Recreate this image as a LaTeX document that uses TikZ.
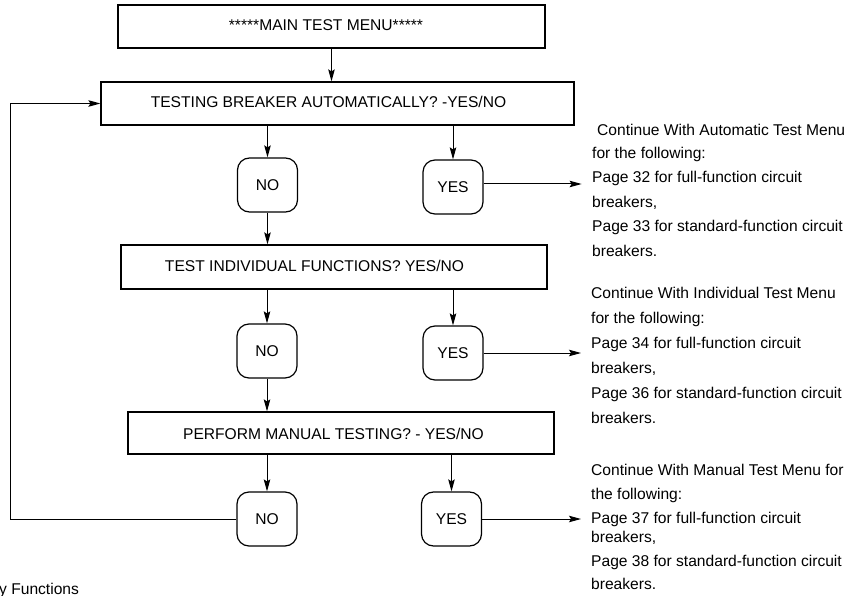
\documentclass[tikz,border=0pt]{standalone}
\usepackage{fontspec}
\setmainfont{Liberation Sans}
\usetikzlibrary{arrows.meta}
\begin{document}
\begin{tikzpicture}[x=1pt,y=-1pt,
  font=\fontsize{15.6}{18}\selectfont,
  menubox/.style={draw, line width=1.2pt, inner sep=0pt, minimum width=#1, minimum height=43pt},
  choice/.style={draw, line width=1.2pt, rounded corners=12pt, inner sep=0pt, minimum width=60pt, minimum height=54pt},
  lbl/.style={anchor=base, inner sep=0pt},
  rtext/.style={anchor=base west, inner sep=0pt},
  arr/.style={line width=1pt, -{Stealth[length=12pt,width=6.5pt,inset=2pt]}},
  conn/.style={line width=1pt}]
\useasboundingbox (0,0) rectangle (854,596);

% rectangles
\node[menubox=427pt] (main) at (331.5,26.5) {};
\node[menubox=473pt] (b2) at (337.5,103.5) {};
\node[menubox=426pt, minimum height=44pt] (b3) at (334,267) {};
\node[menubox=426pt, minimum height=42pt] (b4) at (341,433) {};

\node[lbl] (tmain) at (326,31) {*****MAIN TEST MENU*****};
\node[lbl] (tb2) at (328.5,107.5) {TESTING BREAKER AUTOMATICALLY? -YES/NO};
\node[lbl] (tb3) at (314.5,271.5) {TEST INDIVIDUAL FUNCTIONS? YES/NO};
\node[lbl] (tb4) at (333.5,439) {PERFORM MANUAL TESTING? - YES/NO};

% choices
\node[choice] (no1) at (267.5,185) {NO};
\node[choice] (yes1) at (453,187) {YES};
\node[choice] (no2) at (267,351) {NO};
\node[choice] (yes2) at (453,353) {YES};
\node[choice] (no3) at (267,519) {NO};
\node[choice] (yes3) at (451.5,519) {YES};

% vertical arrows
\draw[arr] (main.south) -- (main.south |- b2.north);
\draw[arr] (no1.north |- b2.south) -- (no1.north);
\draw[arr] (yes1.north |- b2.south) -- (yes1.north);
\draw[arr] (no1.south) -- (no1.south |- b3.north);
\draw[arr] (no2.north |- b3.south) -- (no2.north);
\draw[arr] (yes2.north |- b3.south) -- (yes2.north);
\draw[arr] (no2.south) -- (no2.south |- b4.north);
\draw[arr] (no3.north |- b4.south) -- (no3.north);
\draw[arr] (yes3.north |- b4.south) -- (yes3.north);

% horizontal arrows to the notes
\coordinate (ex) at (581,0);
\draw[arr] (yes1.east) ++(0,-3) -- ++(98,0) coordinate (e1);
\draw[arr] (yes2.east) -- (yes2.east -| ex);
\draw[arr] (yes3.east) -- (yes3.east -| ex);

% loop back
\coordinate (lx) at (10,0);
\draw[arr] (no3.west) -- (no3.west -| lx) |- (b2.west);

% notes
\foreach \yy/\tt [count=\i] in {
  158.5/{for the following:},
  183/{Page 32 for full-function circuit},
  207.5/{breakers,},
  232/{Page 33 for standard-function circuit},
  256.5/{breakers.}}
  \node[rtext] (ra\i) at (592,\yy) {\tt};
\node[rtext] (ra0) at (597,135.5) {Continue With Automatic Test Menu};

\foreach \yy/\tt [count=\i] in {
  298/{Continue With Individual Test Menu},
  323/{for the following:},
  348/{Page 34 for full-function circuit},
  373/{breakers,},
  398/{Page 36 for standard-function circuit},
  423.5/{breakers.}}
  \node[rtext] (rb\i) at (591,\yy) {\tt};

\foreach \yy/\tt [count=\i] in {
  475/{Continue With Manual Test Menu for},
  499/{the following:},
  523/{Page 37 for full-function circuit},
  542/{breakers,},
  566.5/{Page 38 for standard-function circuit},
  589.5/{breakers.}}
  \node[rtext] (rc\i) at (591,\yy) {\tt};

\node[rtext] (foot) at (-1,594) {y Functions};
\end{tikzpicture}
\end{document}
